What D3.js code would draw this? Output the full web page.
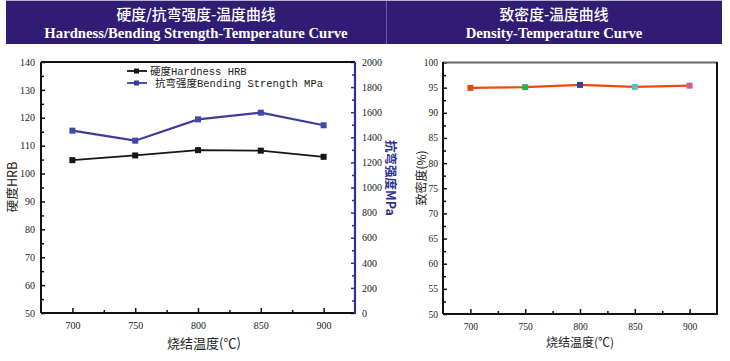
<!DOCTYPE html>
<html><head><meta charset="utf-8">
<script src="https://cdn.jsdelivr.net/npm/d3@7"></script>
<style>
html,body{margin:0;padding:0;background:#fff;}
svg{display:block;}
</style></head>
<body><svg id="c" width="730" height="361"></svg>
<script>
const temps = [700, 750, 800, 850, 900];
const hardness = [104.8, 106.5, 108.4, 108.2, 106.0];
const strength = [1453, 1373, 1543, 1596, 1496];
const density = [94.96, 95.1, 95.55, 95.15, 95.4];
const densityColors = ["#e8461e", "#2bb04a", "#3a3f94", "#5bbfc8", "#c060a0"];
const hardTicks = [50,60,70,80,90,100,110,120,130,140];
const strTicks = [0,200,400,600,800,1000,1200,1400,1600,1800,2000];
const densTicks = [50,55,60,65,70,75,80,85,90,95,100];
const xTicks = [700,750,800,850,900];
const xMinor = [725,775,825,875];

const svg = d3.select("#c");
const serif = "'Liberation Serif','Times New Roman',serif";
const cjk = "'Noto Sans CJK SC','Noto Sans',sans-serif";

// header band
svg.append("rect").attr("x",6).attr("y",0).attr("width",716).attr("height",44).attr("fill","#301c74");
svg.append("line").attr("x1",6).attr("x2",722).attr("y1",0.5).attr("y2",0.5).attr("stroke","#b8b4cc").attr("stroke-width",1);
svg.append("line").attr("x1",386.5).attr("x2",386.5).attr("y1",1).attr("y2",44).attr("stroke","#6a5ea4").attr("stroke-width",1);
function header(cx, t1, t2){
  svg.append("text").attr("x",cx).attr("y",20).attr("text-anchor","middle").attr("fill","#fff")
    .attr("font-family",cjk).attr("font-size",14.8).attr("font-weight",500).text(t1);
  svg.append("text").attr("x",cx).attr("y",38).attr("text-anchor","middle").attr("fill","#fff")
    .attr("font-family",serif).attr("font-size",14.7).attr("font-weight","bold").text(t2);
}
header(196, "硬度/抗弯强度-温度曲线", "Hardness/Bending Strength-Temperature Curve");
header(554, "致密度-温度曲线", "Density-Temperature Curve");

function styleAxis(g, color, fs){
  g.select(".domain").remove();
  g.selectAll("line").attr("stroke",color).attr("stroke-width",1.5);
  g.selectAll("text").attr("font-family",serif).attr("font-size",fs||10).attr("fill","#222");
}

// ---------- Left chart ----------
const xL = d3.scaleLinear().domain([675,925]).range([41,355]);
const yL = d3.scaleLinear().domain([50,140]).range([313,62]);
const yR = d3.scaleLinear().domain([0,2000]).range([313,62]);

const gL = svg.append("g");
let a = gL.append("g").attr("transform","translate(0,313)").call(d3.axisBottom(xL).tickValues(xTicks).tickSize(-5).tickPadding(9).tickFormat(d3.format("d")));
styleAxis(a,"#111");
a = gL.append("g").attr("transform","translate(0,313)").call(d3.axisBottom(xL).tickValues(xMinor).tickSize(-3).tickFormat(""));
styleAxis(a,"#111");
a = gL.append("g").attr("transform","translate(41,0)").call(d3.axisLeft(yL).tickValues(hardTicks).tickSize(-4).tickPadding(6).tickFormat(d3.format("d")));
styleAxis(a,"#111");
a = gL.append("g").attr("transform","translate(41,0)").call(d3.axisLeft(yL).tickValues(d3.range(55,140,10)).tickSize(-3).tickFormat(""));
styleAxis(a,"#111");
a = gL.append("g").attr("transform","translate(355,0)").call(d3.axisRight(yR).tickValues(strTicks).tickSize(-4).tickPadding(7).tickFormat(d3.format("d")));
styleAxis(a,"#2e3192");
a = gL.append("g").attr("transform","translate(355,0)").call(d3.axisRight(yR).tickValues(d3.range(100,2000,200)).tickSize(-3).tickFormat(""));
styleAxis(a,"#2e3192");
gL.append("line").attr("x1",41).attr("x2",355).attr("y1",62).attr("y2",62).attr("stroke","#111").attr("stroke-width",2);
gL.append("line").attr("x1",41).attr("x2",355).attr("y1",313).attr("y2",313).attr("stroke","#111").attr("stroke-width",2);
gL.append("line").attr("x1",41).attr("x2",41).attr("y1",62).attr("y2",313).attr("stroke","#111").attr("stroke-width",2);
gL.append("line").attr("x1",355).attr("x2",355).attr("y1",62).attr("y2",314).attr("stroke","#2e3192").attr("stroke-width",2.2);

const hardColor = "#151515", strColor = "#3a3d9c";
gL.append("path").datum(temps.map((t,i)=>[t,hardness[i]]))
  .attr("d", d3.line().x(d=>xL(d[0])).y(d=>yL(d[1]))).attr("fill","none").attr("stroke",hardColor).attr("stroke-width",1.8);
gL.selectAll(".hm").data(temps.map((t,i)=>[t,hardness[i]])).join("rect")
  .attr("x",d=>xL(d[0])-3).attr("y",d=>yL(d[1])-3).attr("width",6).attr("height",6).attr("fill",hardColor);
gL.append("path").datum(temps.map((t,i)=>[t,strength[i]]))
  .attr("d", d3.line().x(d=>xL(d[0])).y(d=>yR(d[1]))).attr("fill","none").attr("stroke",strColor).attr("stroke-width",2.2);
gL.selectAll(".sm").data(temps.map((t,i)=>[t,strength[i]])).join("rect")
  .attr("x",d=>xL(d[0])-3).attr("y",d=>yR(d[1])-3).attr("width",6).attr("height",6).attr("fill","#3f48a8");

const legend = [["硬度Hardness HRB", hardColor, 71, 150],["抗弯强度Bending Strength MPa", strColor, 83, 155]];
legend.forEach(([t,c,y,tx])=>{
  gL.append("line").attr("x1",127).attr("x2",147).attr("y1",y).attr("y2",y).attr("stroke",c).attr("stroke-width",1.8);
  gL.append("rect").attr("x",134).attr("y",y-2.5).attr("width",5).attr("height",5).attr("fill",c);
  gL.append("text").attr("x",tx).attr("y",y+4).attr("font-family","'Liberation Mono','Noto Sans CJK SC',monospace")
    .attr("font-size",10.5).attr("fill","#222").text(t);
});

gL.append("text").attr("transform","translate(17,187) rotate(-90)").attr("text-anchor","middle")
  .attr("font-family",cjk).attr("font-size",12.5).attr("fill","#222").text("硬度HRB");
gL.append("text").attr("transform","translate(386,178) rotate(90)").attr("text-anchor","middle")
  .attr("font-family",cjk).attr("font-size",12.5).attr("font-weight","bold").attr("fill","#2e3192").text("抗弯强度MPa");
gL.append("text").attr("x",204).attr("y",348).attr("text-anchor","middle")
  .attr("font-family",cjk).attr("font-size",13).attr("fill","#222").text("烧结温度(℃)");

// ---------- Right chart ----------
const xD = d3.scaleLinear().domain([675,925]).range([443,717]);
const yD = d3.scaleLinear().domain([50,100]).range([314,62.5]);
const gR = svg.append("g");
a = gR.append("g").attr("transform","translate(0,314)").call(d3.axisBottom(xD).tickValues(xTicks).tickSize(-5).tickPadding(9).tickFormat(d3.format("d")));
styleAxis(a,"#111",9.5);
a = gR.append("g").attr("transform","translate(0,314)").call(d3.axisBottom(xD).tickValues(xMinor).tickSize(-3).tickFormat(""));
styleAxis(a,"#111");
a = gR.append("g").attr("transform","translate(443,0)").call(d3.axisLeft(yD).tickValues(densTicks).tickSize(-4).tickPadding(5).tickFormat(d3.format("d")));
styleAxis(a,"#111",9.5);
a = gR.append("g").attr("transform","translate(443,0)").call(d3.axisLeft(yD).tickValues(d3.range(52.5,100,5)).tickSize(-3).tickFormat(""));
styleAxis(a,"#111");
gR.append("line").attr("x1",443).attr("x2",717).attr("y1",62.5).attr("y2",62.5).attr("stroke","#666").attr("stroke-width",2);
gR.append("line").attr("x1",443).attr("x2",717).attr("y1",314).attr("y2",314).attr("stroke","#111").attr("stroke-width",2);
gR.append("line").attr("x1",443).attr("x2",443).attr("y1",62).attr("y2",314).attr("stroke","#111").attr("stroke-width",2);
gR.append("line").attr("x1",717).attr("x2",717).attr("y1",62).attr("y2",315).attr("stroke","#111").attr("stroke-width",2);

gR.append("path").datum(temps.map((t,i)=>[t,density[i]]))
  .attr("d", d3.line().x(d=>xD(d[0])).y(d=>yD(d[1]))).attr("fill","none").attr("stroke","#ee4a10").attr("stroke-width",2.2);
gR.selectAll(".dm").data(temps.map((t,i)=>[t,density[i],densityColors[i]])).join("rect")
  .attr("x",d=>xD(d[0])-3).attr("y",d=>yD(d[1])-3).attr("width",6).attr("height",6).attr("fill",d=>d[2]);

gR.append("text").attr("transform","translate(426,178) rotate(-90)").attr("text-anchor","middle")
  .attr("font-family",cjk).attr("font-size",12).attr("fill","#222").text("致密度(%)");
gR.append("text").attr("x",580).attr("y",347).attr("text-anchor","middle")
  .attr("font-family",cjk).attr("font-size",12).attr("fill","#222").text("烧结温度(℃)");
</script></body></html>
